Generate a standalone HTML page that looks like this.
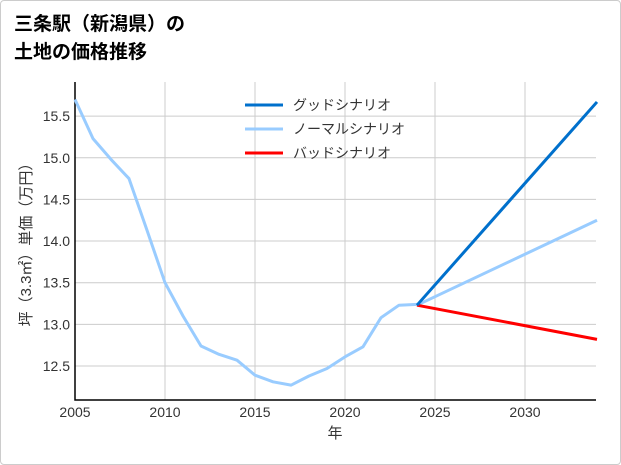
<!DOCTYPE html>
<html><head><meta charset="utf-8"><style>
body{margin:0;background:#fff;font-family:"Liberation Sans","Noto Sans CJK JP",sans-serif}
#wrap{position:relative;width:619px;height:463px;border:1px solid #ccc;border-radius:4px;overflow:hidden}
</style></head><body>
<div id="wrap">
<svg id="chart" width="621" height="465" style="position:absolute;left:-1px;top:-1px">
<text x="14" y="30" font-size="19" font-weight="bold" fill="#000" font-family="Liberation Sans,Noto Sans CJK JP,sans-serif">三条駅（新潟県）の</text>
<text x="14" y="58" font-size="19" font-weight="bold" fill="#000" font-family="Liberation Sans,Noto Sans CJK JP,sans-serif">土地の価格推移</text>
<g id="grid"></g><g id="axes"></g><g id="series"></g><g id="legend"></g>
</svg>
</div>
<script>
const years=[2005,2006,2007,2008,2009,2010,2011,2012,2013,2014,2015,2016,2017,2018,2019,2020,2021,2022,2023,2024];
const normalHist=[15.70,15.23,14.98,14.75,14.13,13.50,13.10,12.74,12.64,12.57,12.39,12.31,12.27,12.38,12.47,12.61,12.73,13.08,13.23,13.24];
const projYears=[2024,2034];
const goodProj=[13.23,15.67];
const normalProj=[13.23,14.25];
const badProj=[13.23,12.82];
const xTicks=[2005,2010,2015,2020,2025,2030];
const yTicks=[12.5,13.0,13.5,14.0,14.5,15.0,15.5];
const NS='http://www.w3.org/2000/svg';
const X=v=>75+(v-2005)*18;
const Y=v=>366-(v-12.5)*83.3;
function mk(t,a,p){const e=document.createElementNS(NS,t);for(const k in a)e.setAttribute(k,a[k]);p.appendChild(e);return e;}
const grid=document.getElementById('grid'),axes=document.getElementById('axes'),ser=document.getElementById('series'),leg=document.getElementById('legend');
const font='Liberation Sans,Noto Sans CJK JP,sans-serif';
xTicks.forEach(t=>{
 const l=mk('line',{x1:X(t),x2:X(t),y1:82,y2:400,stroke:'#ccc','stroke-width':1},grid);
 
 
 const tx=mk('text',{x:X(t),y:417,'font-size':14,'text-anchor':'middle',fill:'#333','font-family':font},axes);
 tx.textContent=t;
 
 
});
yTicks.forEach(t=>{
 const l=mk('line',{x1:75,x2:596,y1:Y(t),y2:Y(t),stroke:'#ccc','stroke-width':1},grid);
 
 
 const tx=mk('text',{x:70,y:Y(t)+5,'font-size':14,'text-anchor':'end',fill:'#333','font-family':font},axes);
 tx.textContent=t.toFixed(1);
 
 
});
const ax=mk('path',{d:'M75 82 V400 H596',fill:'none',stroke:'#000','stroke-width':1.5},axes);


const xl=mk('text',{x:335,y:438,'font-size':15,'text-anchor':'middle',fill:'#333','font-family':font},axes);
xl.textContent='年';


const yl=mk('text',{x:0,y:0,'font-size':15,'text-anchor':'middle',fill:'#333','font-family':font,transform:'translate(31,241) rotate(-90)'},axes);
yl.textContent='坪（3.3㎡）単価（万円）';


function line(xs,ys,color,name){
 const p=mk('polyline',{points:xs.map((x,i)=>X(x)+','+Y(ys[i])).join(' '),fill:'none',stroke:color,'stroke-width':3,'stroke-linejoin':'round'},ser);
 
 
}
line(years,normalHist,'#99ccff','normal-history-line');
line(projYears,normalProj,'#99ccff','normal-scenario-line');
line(projYears,badProj,'#ff0000','bad-scenario-line');
line(projYears,goodProj,'#0070cc','good-scenario-line');
const legItems=[['グッドシナリオ','#0070cc'],['ノーマルシナリオ','#99ccff'],['バッドシナリオ','#ff0000']];
legItems.forEach((it,i)=>{
 const y=105+i*24;
 const l=mk('line',{x1:245,x2:283,y1:y,y2:y,stroke:it[1],'stroke-width':3},leg);
 
 
 const t=mk('text',{x:293,y:y+5,'font-size':14,fill:'#333','font-family':font},leg);
 t.textContent=it[0];
 
 
});
</script>
</body></html>
